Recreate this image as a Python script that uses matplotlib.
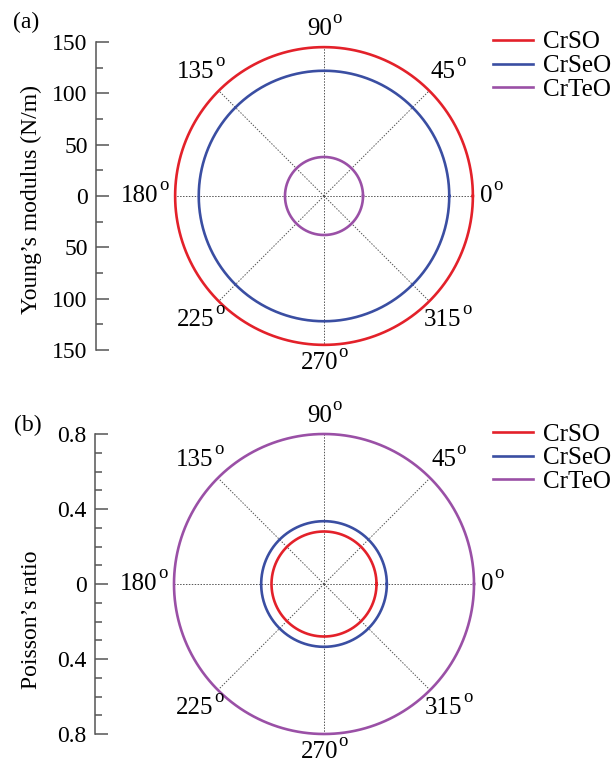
import numpy as np
import matplotlib
matplotlib.use('Agg')
import matplotlib.pyplot as plt
from matplotlib.ticker import MultipleLocator, FuncFormatter

plt.rcParams['font.family'] = ['Liberation Serif', 'DejaVu Serif']
AXIS_FS = 17
LABEL_FS = 18

materials = ['CrSO', 'CrSeO', 'CrTeO']
colors = ['#e3212a', '#3a4ea2', '#9a50a6']
youngs_modulus = [145, 122, 38]          # N/m, isotropic
poisson_ratio = [0.28, 0.335, 0.80]      # isotropic
grid_angles = [0, 45, 90, 135, 180, 225, 270, 315]

FIG_W, FIG_H = 615, 766


def degree_label(ax, x, y, value, ha, va):
    # digits plus a raised small "o", the way the original marks degrees
    sup_fs = LABEL_FS * 0.75
    sup_w = 0.5 * sup_fs
    shift = {'left': 0, 'center': -sup_w / 2, 'right': -sup_w}[ha]
    main = ax.annotate(str(value), xy=(x, y), xytext=(shift, 0),
                       textcoords='offset points', ha=ha, va=va,
                       fontsize=LABEL_FS, annotation_clip=False)
    ax.annotate('o', xy=(1, 0), xycoords=main, xytext=(0.3, 0.68 * LABEL_FS),
                textcoords='offset points', ha='left', va='baseline',
                fontsize=sup_fs, annotation_clip=False)


def add_panel(rect_px, y_max, values, major, minor, ylabel, label_y, tag,
              tag_xy, legend_top):
    left, top, right, bottom = rect_px
    ax = fig.add_axes([left / FIG_W, 1 - bottom / FIG_H,
                       (right - left) / FIG_W, (bottom - top) / FIG_H])
    px_per_unit = (bottom - top) / (2 * y_max)
    cx = 324
    ax.set_xlim(-(cx - left) / px_per_unit, (right - cx) / px_per_unit)
    ax.set_ylim(-y_max, y_max)

    r_out = max(values)
    theta = np.linspace(0, 2 * np.pi, 721)
    for name, col, r in zip(materials, colors, values):
        ax.plot(r * np.cos(theta), r * np.sin(theta), color=col, lw=1.9,
                label=name, zorder=3, clip_on=False)

    for a in grid_angles:
        t = np.deg2rad(a)
        ax.plot([0, r_out * np.cos(t)], [0, r_out * np.sin(t)],
                color='#555555', lw=0.7, ls=(0, (1.5, 1.5)), zorder=1)
        if a % 90 == 0:
            rr = r_out + 7 / px_per_unit
            ha = {0: 'left', 90: 'center', 180: 'right', 270: 'center'}[a]
            va = {0: 'center', 90: 'bottom', 180: 'center', 270: 'top'}[a]
        else:
            rr = r_out + 26 / px_per_unit
            ha, va = 'center', 'center'
        degree_label(ax, rr * np.cos(t), rr * np.sin(t), a, ha, va)

    for s in ['top', 'right', 'bottom']:
        ax.spines[s].set_visible(False)
    ax.spines['left'].set_color('#555555')
    ax.spines['left'].set_linewidth(1.1)
    ax.set_xticks([])
    ax.yaxis.set_major_locator(MultipleLocator(major))
    ax.yaxis.set_minor_locator(MultipleLocator(minor))
    ax.yaxis.set_major_formatter(FuncFormatter(lambda v, p: '%g' % abs(round(v, 6))))
    ax.tick_params(axis='y', which='both', direction='in', color='#555555',
                   width=1.1, labelsize=AXIS_FS, pad=6)
    ax.tick_params(axis='y', which='major', length=9)
    ax.tick_params(axis='y', which='minor', length=5)
    ax.set_ylabel(ylabel, fontsize=AXIS_FS)
    ax.yaxis.set_label_coords(-(left - 42) / (right - left), label_y)
    fig.text(tag_xy[0] / FIG_W, 1 - tag_xy[1] / FIG_H, tag,
             fontsize=AXIS_FS, ha='center', va='center')
    fig.legend(*ax.get_legend_handles_labels(), loc='upper left',
               bbox_to_anchor=(493 / FIG_W, 1 - legend_top / FIG_H),
               frameon=False, fontsize=LABEL_FS, handlelength=1.6,
               handletextpad=0.4, labelspacing=0.05, borderpad=0,
               borderaxespad=0)
    return ax


fig = plt.figure(figsize=(FIG_W / 100, FIG_H / 100), dpi=100)

add_panel((96, 42, 482, 350), 150, youngs_modulus, 50, 25,
          "Young’s modulus (N/m)", 0.49, '(a)', (26, 22), 31)
add_panel((95, 434, 482, 734), 0.8, poisson_ratio, 0.4, 0.1,
          "Poisson’s ratio", 0.38, '(b)', (28, 425), 423)

fig.savefig('out.png', dpi=100)
